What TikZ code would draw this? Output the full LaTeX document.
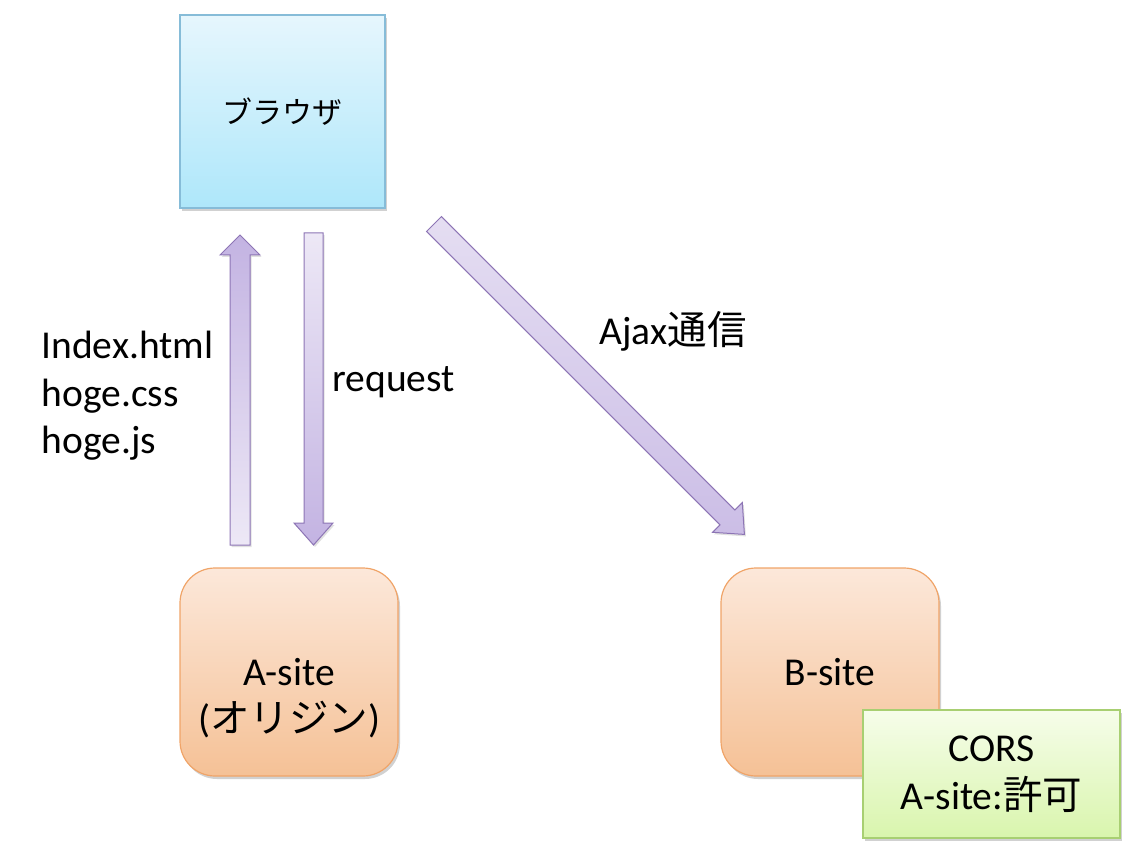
\documentclass[tikz,border=0pt]{standalone}
\usepackage{fontspec}
\setmainfont{Carlito}
\newfontfamily\jp{Noto Sans CJK JP}
\usetikzlibrary{shadows}
\definecolor{brTop}{HTML}{E6F6FD}
\definecolor{brBot}{HTML}{AEE7FA}
\definecolor{brLine}{HTML}{86BCD8}
\definecolor{siteTop}{HTML}{FCE8DA}
\definecolor{siteBot}{HTML}{F5C196}
\definecolor{siteLine}{HTML}{F0A468}
\definecolor{corsTop}{HTML}{F6FDEA}
\definecolor{corsBot}{HTML}{D9F5AD}
\definecolor{corsLine}{HTML}{A8CF72}
\definecolor{arD}{HTML}{C3B3E2}
\definecolor{arL}{HTML}{EDE8F6}
\definecolor{arLine}{HTML}{8D75B5}
\begin{document}
\begin{tikzpicture}[x=1pt,y=-1pt,
  boxshadow/.style={drop shadow={shadow xshift=2pt,shadow yshift=-3pt,opacity=0.3,fill=black!60}},
  bigtext/.style={font=\fontsize{39.5}{47.5}\selectfont, text=black},
  browserbox/.style={draw=brLine, line width=1.2pt, top color=brTop, bottom color=brBot,
     minimum width=205pt, minimum height=193pt, boxshadow, font=\jp\fontsize{30}{34}\selectfont},
  sitebox/.style={draw=siteLine, line width=1.2pt, top color=siteTop, bottom color=siteBot,
     rounded corners=35pt, minimum width=218pt, minimum height=208pt, boxshadow},
  corsbox/.style={draw=corsLine, line width=1.2pt, top color=corsTop, bottom color=corsBot,
     minimum width=257pt, minimum height=128pt, boxshadow, align=center, bigtext},
  blockarrow/.style={draw=arLine, line width=1pt, line join=miter,
     drop shadow={shadow xshift=1.5pt,shadow yshift=-2pt,opacity=0.2,fill=black!60}}
]
\useasboundingbox (0,0) rectangle (1146,858);

% boxes
\node[browserbox] (browser) at (282.5,111.5) {ブラウザ};
\node[sitebox] (asite) at (289,672) {};
\node[bigtext, align=center] (asitetext) at (289,698) {A-site\\({\jp オリジン})};
\node[sitebox] (bsite) at (830,672) {};
\node[bigtext] (bsitetext) at (bsite.center) {B-site};
\node[corsbox] (cors) at (991.5,774) {CORS\\A-site:{\jp 許可}};

% block arrows
\path[blockarrow, top color=arD, bottom color=arL]
  (230,545) -- (230,255) -- (220,255) -- (240,235) -- (260,255) -- (250,255) -- (250,545) -- cycle;
\path[blockarrow, top color=arL, bottom color=arD]
  (304,233) -- (304,523) -- (294,523) -- (313.5,545) -- (333,523) -- (323,523) -- (323,233) -- cycle;
\begin{scope}[shift={(434,224)}, rotate=-45]
\path[blockarrow, top color=arL!80!arD, bottom color=arD!80!arL]
  (0,-10.5) -- (415,-10.5) -- (415,-21) -- (439,0) -- (415,21) -- (415,10.5) -- (0,10.5) -- cycle;
\end{scope}

% labels
\node[bigtext, anchor=west, align=left] (files) at (38,396) {Index.html\\hoge.css\\hoge.js};
\node[bigtext, anchor=west] (req) at (329,382) {request};
\node[bigtext, anchor=west] (ajax) at (596,331) {Ajax{\jp 通信}};
\end{tikzpicture}
\end{document}
